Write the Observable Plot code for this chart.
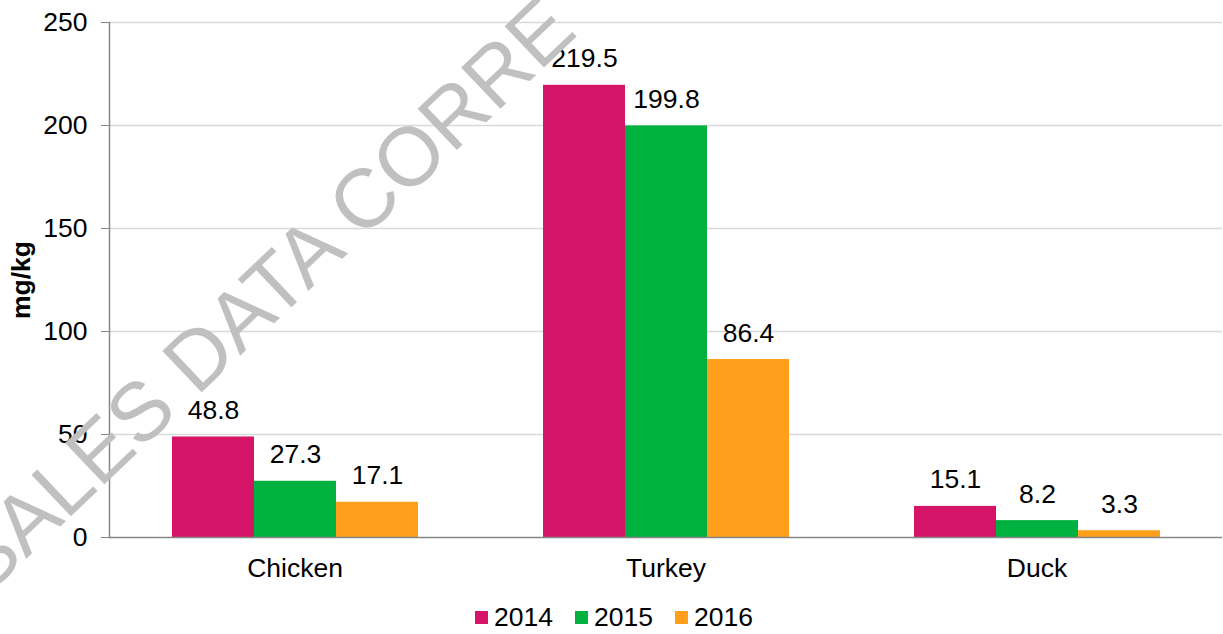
<!DOCTYPE html>
<html><head><meta charset="utf-8">
<script src="https://cdn.jsdelivr.net/npm/d3@7"></script>
<script src="https://cdn.jsdelivr.net/npm/@observablehq/plot@0.6"></script>
<style>
body{margin:0;background:#fff;font-family:"Liberation Sans",Arial,sans-serif;}
#chart svg{display:block;}
#legend{display:flex;justify-content:center;align-items:flex-start;box-sizing:border-box;height:34px;padding-top:6px;font-size:26.5px;line-height:22px;color:#000;padding-left:5px;}
#legend .item{display:flex;align-items:center;margin:0 11px;height:22px;}
#legend .sw{width:13px;height:13px;margin-right:6px;}
</style></head><body><div id="chart"></div><div id="legend"></div><script>
const categories = ["Chicken", "Turkey", "Duck"];
const years = ["2014", "2015", "2016"];
const values2014 = [48.8, 219.5, 15.1];
const values2015 = [27.3, 199.8, 8.2];
const values2016 = [17.1, 86.4, 3.3];
const yTicks = [0, 50, 100, 150, 200, 250];
const colors = ["#D51367", "#00B140", "#FF9F1C"];
const yLabel = "mg/kg";
const watermark = "SALES DATA CORRE";

const series = [values2014, values2015, values2016];
const data = [];
categories.forEach((c, i) => years.forEach((y, j) => data.push({category: c, year: y, value: series[j][i]})));

const font = "Liberation Sans, Arial, sans-serif";
const fs = 26.5;
const plot = Plot.plot({
  width: 1223, height: 600,
  marginLeft: 108, marginRight: 0, marginTop: 22, marginBottom: 63,
  style: {fontFamily: font, fontSize: fs + "px", color: "#000", background: "#fff", overflow: "visible"},
  fx: {domain: categories, padding: 0, label: null},
  x: {domain: years, paddingInner: 0, paddingOuter: 0.75, axis: null},
  y: {domain: [0, 250], label: null},
  color: {domain: years, range: colors},
  marks: [
    Plot.ruleY(yTicks.slice(1), {stroke: "#d9d9d9", strokeWidth: 1.3}),
    Plot.barY(data, {fx: "category", x: "year", y: "value", fill: "year"}),
    Plot.ruleY([0], {stroke: "#868686", strokeWidth: 1.5}),
    Plot.frame({anchor: "left", facetAnchor: "left", stroke: "#868686", strokeWidth: 1.5}),
    Plot.axisY(yTicks, {tickSize: 8, tickPadding: 14, stroke: "#868686", fill: "#000", fontSize: fs, label: null}),
    Plot.axisFx({anchor: "bottom", tickSize: 0, tickPadding: 21, fontSize: fs, fill: "#000", label: null}),
    Plot.text(data, {fx: "category", x: "year", y: "value", text: d => d.value.toFixed(1), dy: -18, lineAnchor: "bottom", fontSize: fs, fill: "#000"}),
    Plot.text([yLabel], {facet: "super", frameAnchor: "left", dx: -79.5, dy: 0, rotate: -90, textAnchor: "middle", lineAnchor: "bottom", fontWeight: "bold", fontSize: fs, fill: "#000"}),
    Plot.text([watermark], {facet: "super", frameAnchor: "bottom-left", dx: -123.7, dy: 59.6, rotate: -43.5, textAnchor: "start", lineAnchor: "bottom", fontSize: 83, fill: "#c0c0c0"})
  ]
});
document.getElementById("chart").appendChild(plot);

const legend = document.getElementById("legend");
years.forEach((y, i) => {
  const item = document.createElement("div");
  item.className = "item";
  const sw = document.createElement("div");
  sw.className = "sw";
  sw.style.background = plot.scale("color").apply(y);
  const t = document.createElement("span");
  t.textContent = y;
  item.appendChild(sw); item.appendChild(t);
  legend.appendChild(item);
});
</script></body></html>
